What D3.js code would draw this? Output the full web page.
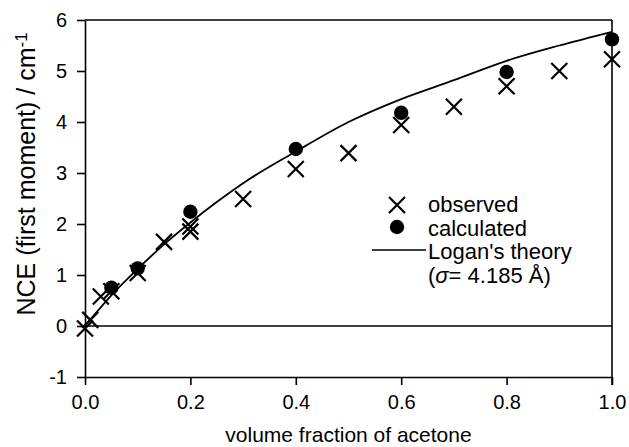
<!DOCTYPE html>
<html>
<head>
<meta charset="utf-8">
<script src="https://cdn.jsdelivr.net/npm/d3@7"></script>
<style>
  body { margin: 0; background: #fff; }
  svg { display: block; font-family: "Liberation Sans", Arial, Helvetica, sans-serif; }
</style>
</head>
<body>
<svg id="chart" width="629" height="447"></svg>
<script>
// observed NCE (crosses)
var obsX = [0.0, 0.01, 0.03, 0.05, 0.1, 0.15, 0.2, 0.2, 0.3, 0.4, 0.5, 0.6, 0.7, 0.8, 0.9, 1.0];
var obsY = [-0.05, 0.12, 0.58, 0.68, 1.04, 1.65, 1.95, 1.85, 2.49, 3.08, 3.39, 3.94, 4.3, 4.7, 5.0, 5.23];
// calculated (filled dots)
var calcX = [0.05, 0.1, 0.2, 0.4, 0.6, 0.8, 1.0];
var calcY = [0.75, 1.13, 2.24, 3.47, 4.18, 4.98, 5.62];
// Logan's theory curve
var theoryX = [0, 0.05, 0.1, 0.15, 0.2, 0.25, 0.3, 0.4, 0.5, 0.6, 0.7, 0.8, 0.9, 1.0];
var theoryY = [0, 0.6, 1.12, 1.6, 2.03, 2.43, 2.8, 3.42, 4.0, 4.45, 4.82, 5.2, 5.5, 5.77];

var xTicks = [0, 0.2, 0.4, 0.6, 0.8, 1.0];
var yTicks = [-1, 0, 1, 2, 3, 4, 5, 6];

var svg = d3.select("#chart");

var x = d3.scaleLinear().domain([0, 1]).range([85, 612]);
var y = d3.scaleLinear().domain([-1, 6]).range([377, 20]);

function appendCross(onto, cx, cy, h) {
    onto.append("path")
        .attr("d", "M" + (cx - h) + "," + (cy - h) + "L" + (cx + h) + "," + (cy + h) +
                   "M" + (cx - h) + "," + (cy + h) + "L" + (cx + h) + "," + (cy - h))
        .style("stroke", "#000")
        .style("stroke-width", 2.2)
        .style("fill", "none");
}

// frame: top and right lines
svg.append("line")
    .attr("x1", x(0)).attr("y1", y(6)).attr("x2", x(1)).attr("y2", y(6))
    .style("stroke", "#000").style("stroke-width", 1.6);
svg.append("line")
    .attr("x1", x(1)).attr("y1", y(6)).attr("x2", x(1)).attr("y2", y(-1) + 8)
    .style("stroke", "#000").style("stroke-width", 1.6);

// zero line
svg.append("line")
    .attr("x1", x(0)).attr("y1", y(0)).attr("x2", x(1)).attr("y2", y(0))
    .style("stroke", "#000").style("stroke-width", 1.6);

// axes
var yAxis = svg.append("g")
    .attr("transform", "translate(" + x(0) + ",0)")
    .call(d3.axisLeft(y).tickValues(yTicks).tickFormat(function (d) { return String(d); })
        .tickSize(8).tickPadding(10).tickSizeOuter(0));
var xAxis = svg.append("g")
    .attr("transform", "translate(0," + y(-1) + ")")
    .call(d3.axisBottom(x).tickValues(xTicks).tickFormat(d3.format(".1f"))
        .tickSize(8).tickPadding(10).tickSizeOuter(0));

[xAxis, yAxis].forEach(function (a) {
    a.select(".domain").style("stroke", "#000").style("stroke-width", 1.6);
    a.selectAll(".tick line").style("stroke", "#000").style("stroke-width", 1.6);
    a.selectAll(".tick text")
        .style("font-family", "'Liberation Sans', Arial, sans-serif")
        .style("font-size", "20px")
        .style("fill", "#000");
});

// theory curve
var line = d3.line()
    .x(function (d, i) { return x(theoryX[i]); })
    .y(function (d, i) { return y(theoryY[i]); })
    .curve(d3.curveMonotoneX);
svg.append("path")
    .datum(theoryX)
    .attr("d", line)
    .style("stroke", "#000")
    .style("stroke-width", 1.8)
    .style("fill", "none");

// calculated dots
svg.append("g").selectAll("circle")
    .data(calcX)
    .enter().append("circle")
    .attr("cx", function (d) { return x(d); })
    .attr("cy", function (d, i) { return y(calcY[i]); })
    .attr("r", 7.2)
    .style("fill", "#000");

// observed crosses
var crosses = svg.append("g");
obsX.forEach(function (d, i) {
    appendCross(crosses, x(d), y(obsY[i]), 8);
});

// legend
var legend = svg.append("g").style("font-size", "22px").style("fill", "#000");
appendCross(legend, 397, 205, 8);
legend.append("text").attr("x", 428).attr("y", 212).text("observed");
legend.append("circle").attr("cx", 397).attr("cy", 227).attr("r", 7.2).style("fill", "#000");
legend.append("text").attr("x", 428).attr("y", 236).text("calculated");
legend.append("line")
    .attr("x1", 372).attr("y1", 250).attr("x2", 426).attr("y2", 250)
    .style("stroke", "#000").style("stroke-width", 1.6);
legend.append("text").attr("x", 428).attr("y", 259).text("Logan's theory");
var sig = legend.append("text").attr("x", 428).attr("y", 283);
sig.append("tspan").text("(");
sig.append("tspan").style("font-style", "italic").text("σ");
sig.append("tspan").text("= 4.185 Å)");

// axis titles
svg.append("text")
    .attr("x", x(0.5)).attr("y", 442)
    .attr("text-anchor", "middle")
    .style("font-size", "21px")
    .text("volume fraction of acetone");

var yt = svg.append("text")
    .attr("transform", "translate(35,174) rotate(-90)")
    .attr("text-anchor", "middle")
    .style("font-size", "25px");
yt.append("tspan").text("NCE (first moment) / cm");
yt.append("tspan").attr("dy", "-0.45em").style("font-size", "17px").text("-1");
</script>
</body>
</html>
